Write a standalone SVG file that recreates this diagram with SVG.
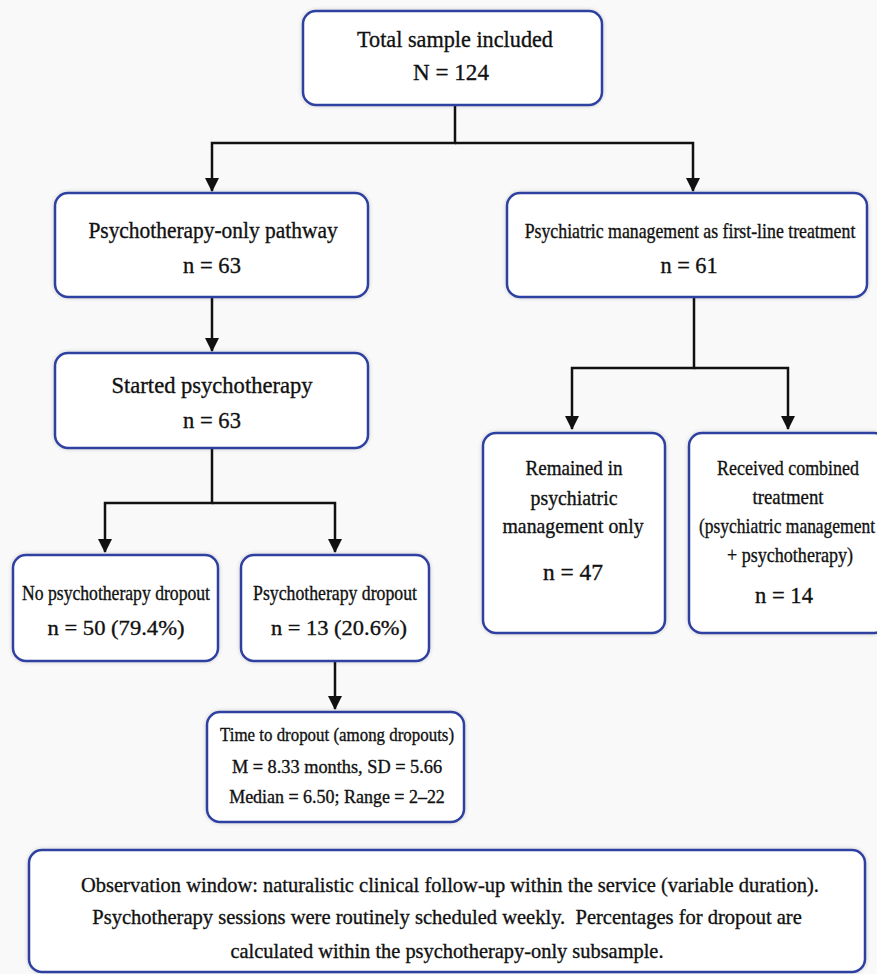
<svg xmlns="http://www.w3.org/2000/svg" width="877" height="974" viewBox="0 0 877 974">
<style>
.box{fill:#ffffff;stroke:#2f41a0;stroke-width:2.5;filter:url(#sh)}
.t{font-family:"Liberation Serif","Times New Roman",serif;fill:#111;stroke:#111;stroke-width:0.35;text-anchor:middle}
.conn{fill:none;stroke:#111;stroke-width:2.5}
</style>
<defs>
<filter id="sh" x="-10%" y="-10%" width="120%" height="120%">
<feGaussianBlur in="SourceAlpha" stdDeviation="2"/>
<feComponentTransfer><feFuncA type="linear" slope="0.18"/></feComponentTransfer>
<feMerge><feMergeNode/><feMergeNode in="SourceGraphic"/></feMerge>
</filter>
<marker id="arr" markerUnits="userSpaceOnUse" markerWidth="14" markerHeight="14" refX="13" refY="7" orient="auto" viewBox="0 0 14 14">
<path d="M0,0 L14,7 L0,14 Z" fill="#111"/>
</marker>
</defs>
<rect width="877" height="974" fill="#f9f9f9"/>

<g id="connectors">
<path class="conn" d="M455,105 V143 H212 V191" marker-end="url(#arr)"/>
<path class="conn" d="M455,143 H693 V191" marker-end="url(#arr)"/>
<path class="conn" d="M212,297 V351" marker-end="url(#arr)"/>
<path class="conn" d="M212,448 V503 H105 V552" marker-end="url(#arr)"/>
<path class="conn" d="M212,503 H335 V552" marker-end="url(#arr)"/>
<path class="conn" d="M335,661 V709" marker-end="url(#arr)"/>
<path class="conn" d="M694,297 V368 H572 V429" marker-end="url(#arr)"/>
<path class="conn" d="M694,368 H788 V429" marker-end="url(#arr)"/>
</g>

<g id="total">
<rect class="box" x="303" y="11" width="299" height="94" rx="13"/>
<text class="t" transform="translate(455,47) scale(0.92,1)" font-size="24" textLength="213" lengthAdjust="spacingAndGlyphs">Total sample included</text>
<text class="t" transform="translate(451,80) scale(0.96,1)" font-size="24" textLength="79" lengthAdjust="spacingAndGlyphs">N = 124</text>
</g>

<g id="psyonly">
<rect class="box" x="55" y="193" width="313" height="104" rx="13"/>
<text class="t" transform="translate(213,238) scale(0.93,1)" font-size="23" textLength="268" lengthAdjust="spacingAndGlyphs">Psychotherapy-only pathway</text>
<text class="t" transform="translate(212,273) scale(0.98,1)" font-size="23" textLength="59" lengthAdjust="spacingAndGlyphs">n = 63</text>
</g>

<g id="psychiatric">
<rect class="box" x="507" y="193" width="360" height="104" rx="13"/>
<text class="t" transform="translate(690,238) scale(0.85,1)" font-size="21" textLength="389" lengthAdjust="spacingAndGlyphs">Psychiatric management as first-line treatment</text>
<text class="t" transform="translate(689,273) scale(0.97,1)" font-size="23" textLength="59" lengthAdjust="spacingAndGlyphs">n = 61</text>
</g>

<g id="started">
<rect class="box" x="55" y="353" width="313" height="95" rx="13"/>
<text class="t" transform="translate(212,393) scale(0.98,1)" font-size="23" textLength="205" lengthAdjust="spacingAndGlyphs">Started psychotherapy</text>
<text class="t" transform="translate(212,428) scale(0.98,1)" font-size="23" textLength="59" lengthAdjust="spacingAndGlyphs">n = 63</text>
</g>

<g id="remained">
<rect class="box" x="483" y="433" width="182" height="200" rx="13"/>
<text class="t" transform="translate(574,475) scale(0.87,1)" font-size="22" textLength="111.5" lengthAdjust="spacingAndGlyphs">Remained in</text>
<text class="t" transform="translate(574,505) scale(0.9,1)" font-size="22" textLength="96.7" lengthAdjust="spacingAndGlyphs">psychiatric</text>
<text class="t" transform="translate(573,533) scale(0.9,1)" font-size="22" textLength="156.7" lengthAdjust="spacingAndGlyphs">management only</text>
<text class="t" transform="translate(573,580)" font-size="23" textLength="60" lengthAdjust="spacingAndGlyphs">n = 47</text>
</g>

<g id="received">
<rect class="box" x="689" y="433" width="198" height="200" rx="13"/>
<text class="t" transform="translate(788,475) scale(0.82,1)" font-size="22" textLength="173" lengthAdjust="spacingAndGlyphs">Received combined</text>
<text class="t" transform="translate(788,504) scale(0.86,1)" font-size="22" textLength="82.6" lengthAdjust="spacingAndGlyphs">treatment</text>
<text class="t" transform="translate(787,533) scale(0.79,1)" font-size="22" textLength="222.8" lengthAdjust="spacingAndGlyphs">(psychiatric management</text>
<text class="t" transform="translate(790,562) scale(0.82,1)" font-size="22" textLength="153.7" lengthAdjust="spacingAndGlyphs">+ psychotherapy)</text>
<text class="t" transform="translate(784,603) scale(0.98,1)" font-size="23" textLength="59" lengthAdjust="spacingAndGlyphs">n = 14</text>
</g>

<g id="nodropout">
<rect class="box" x="13" y="555" width="205" height="106" rx="13"/>
<text class="t" transform="translate(116,600) scale(0.84,1)" font-size="21" textLength="223.8" lengthAdjust="spacingAndGlyphs">No psychotherapy dropout</text>
<text class="t" transform="translate(116,635)" font-size="22" textLength="137" lengthAdjust="spacingAndGlyphs">n = 50 (79.4%)</text>
</g>

<g id="dropout">
<rect class="box" x="241" y="555" width="188" height="106" rx="13"/>
<text class="t" transform="translate(335,600) scale(0.845,1)" font-size="21" textLength="194" lengthAdjust="spacingAndGlyphs">Psychotherapy dropout</text>
<text class="t" transform="translate(339,635)" font-size="22" textLength="136" lengthAdjust="spacingAndGlyphs">n = 13 (20.6%)</text>
</g>

<g id="timetodropout">
<rect class="box" x="207" y="712" width="257" height="110" rx="13"/>
<text class="t" transform="translate(337,741) scale(0.89,1)" font-size="19" textLength="263" lengthAdjust="spacingAndGlyphs">Time to dropout (among dropouts)</text>
<text class="t" transform="translate(337,773) scale(0.96,1)" font-size="19" textLength="219" lengthAdjust="spacingAndGlyphs">M = 8.33 months, SD = 5.66</text>
<text class="t" transform="translate(337,803) scale(0.95,1)" font-size="19" textLength="227" lengthAdjust="spacingAndGlyphs">Median = 6.50; Range = 2–22</text>
</g>

<g id="note">
<rect class="box" x="29" y="850" width="836" height="122" rx="13"/>
<text class="t" transform="translate(450,892) scale(0.93,1)" font-size="22" textLength="793.5" lengthAdjust="spacingAndGlyphs">Observation window: naturalistic clinical follow-up within the service (variable duration).</text>
<text class="t" transform="translate(447,924) scale(0.93,1)" font-size="22" textLength="763" lengthAdjust="spacingAndGlyphs" xml:space="preserve">Psychotherapy sessions were routinely scheduled weekly.  Percentages for dropout are</text>
<text class="t" transform="translate(447,958) scale(0.93,1)" font-size="22" textLength="465.6" lengthAdjust="spacingAndGlyphs">calculated within the psychotherapy-only subsample.</text>
</g>
</svg>
